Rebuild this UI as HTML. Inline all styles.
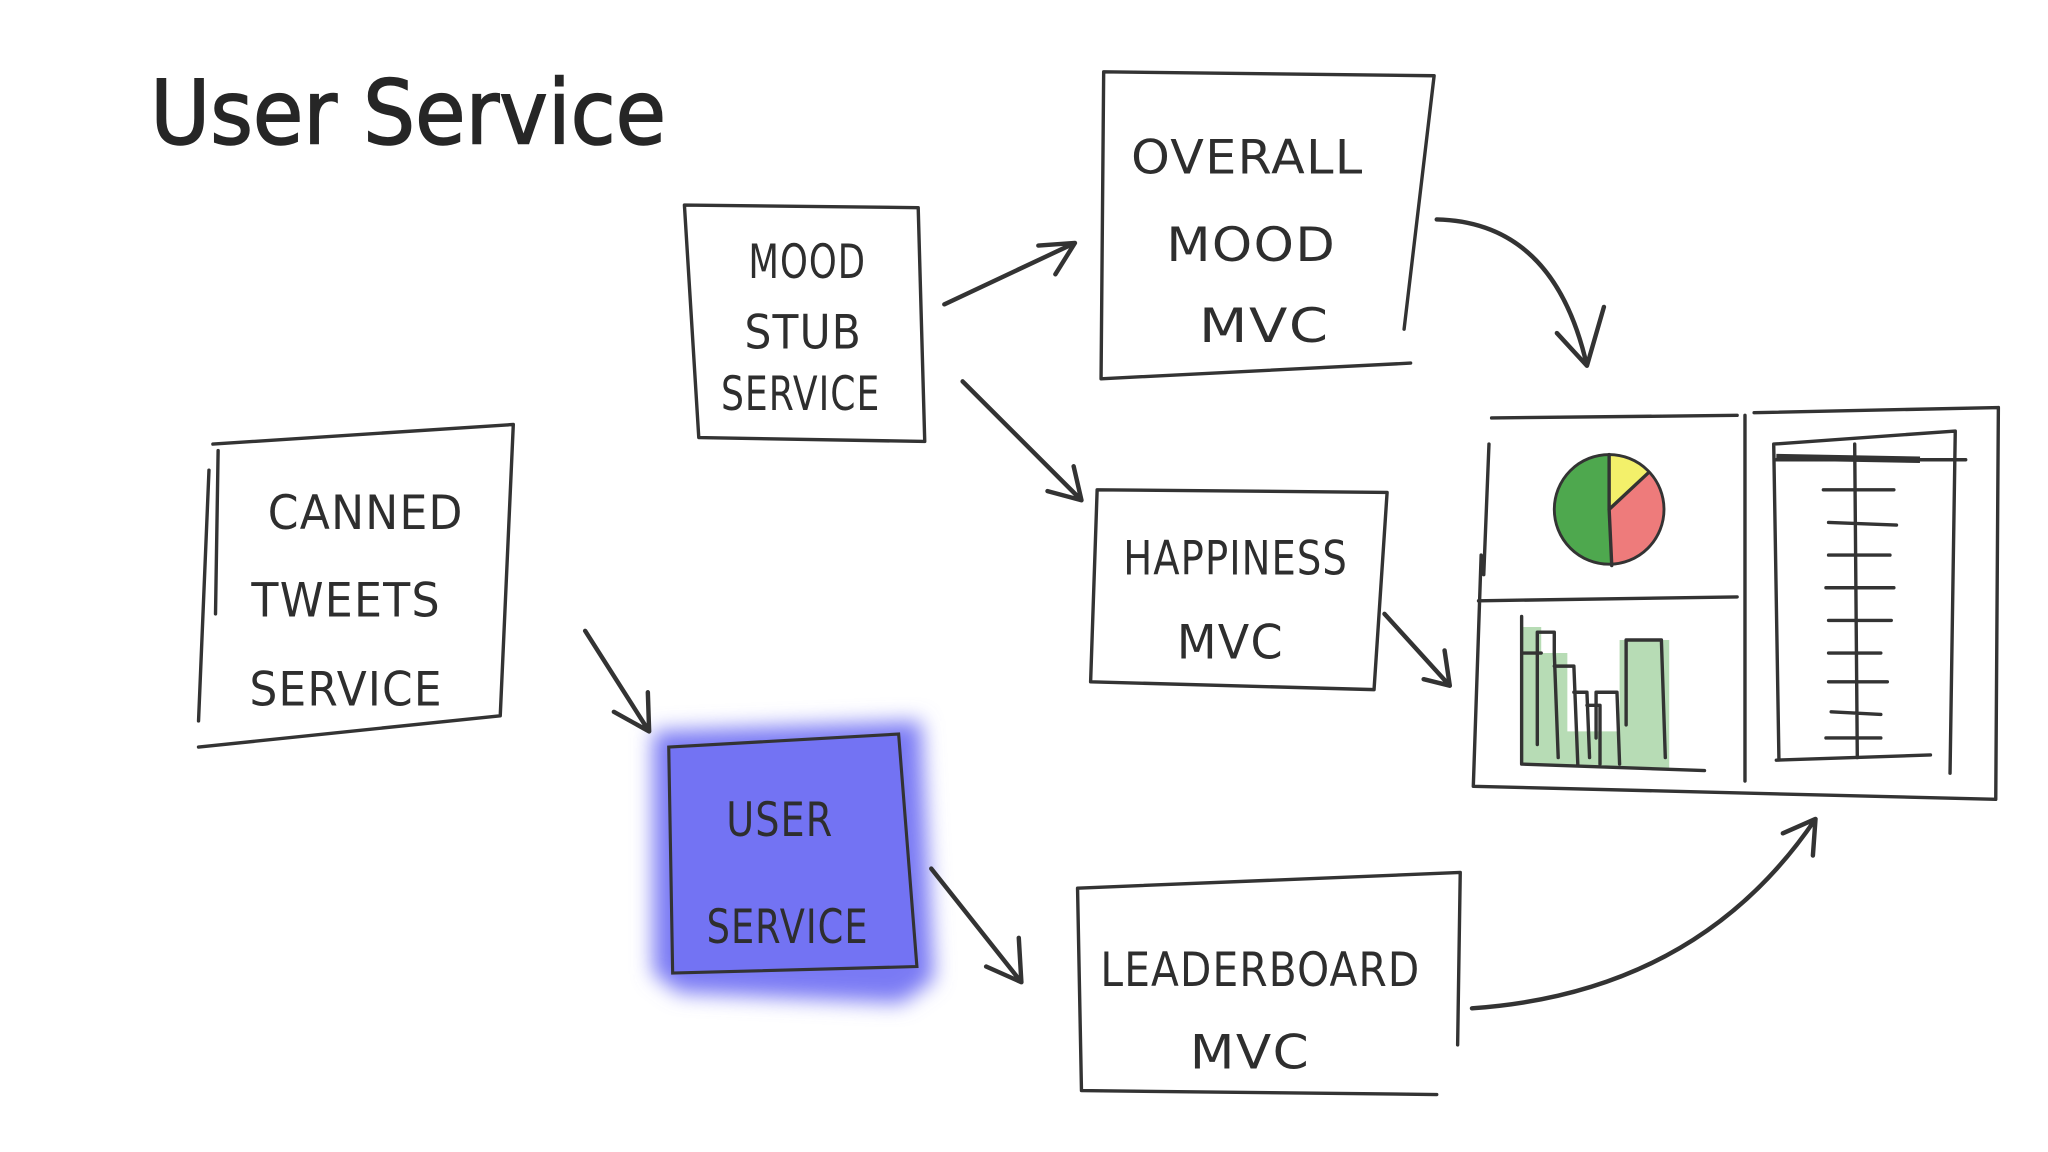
<!DOCTYPE html>
<html><head><meta charset="utf-8"><style>
html,body{margin:0;padding:0;background:#fff;}
svg{display:block;}
.t{font-family:"DejaVu Sans","Liberation Sans",sans-serif;fill:#2e2e2e;font-size:36px;text-anchor:middle;letter-spacing:1px;}
.b{fill:none;stroke:#333;stroke-width:2.6;stroke-linecap:round;stroke-linejoin:round;}
.a{fill:none;stroke:#333;stroke-width:3.4;stroke-linecap:round;stroke-linejoin:round;}
</style></head><body>
<svg width="2048" height="1152" viewBox="0 0 1568 882" preserveAspectRatio="none" xmlns="http://www.w3.org/2000/svg">
<defs>
<filter id="bl" x="-30%" y="-30%" width="160%" height="160%"><feGaussianBlur stdDeviation="8"/></filter>
</defs>
<text x="115" y="110" font-family="DejaVu Sans, Liberation Sans, sans-serif" font-size="68" fill="#262626" stroke="#262626" stroke-width="1.2" textLength="395" lengthAdjust="spacingAndGlyphs">User Service</text>

<!-- Mood Stub -->
<path class="b" d="M524,157 L703,159 L708,338 L535,335 Z"/>
<text class="t" x="618" y="213" textLength="90" lengthAdjust="spacingAndGlyphs">MOOD</text>
<text class="t" x="615" y="267" textLength="90" lengthAdjust="spacingAndGlyphs">STUB</text>
<text class="t" x="613" y="314" font-size="32" textLength="122" lengthAdjust="spacingAndGlyphs">SERVICE</text>

<!-- Overall -->
<path class="b" d="M845,55 L1098,58 L1075,252 M1080,278 L843,290 L845,55"/>
<text class="t" x="955" y="133" textLength="178" lengthAdjust="spacingAndGlyphs">OVERALL</text>
<text class="t" x="958" y="200" textLength="130" lengthAdjust="spacingAndGlyphs">MOOD</text>
<text class="t" x="968" y="262" textLength="100" lengthAdjust="spacingAndGlyphs">MVC</text>

<!-- Canned -->
<path class="b" d="M167,345 L165,470 M152,552 L160,360 M163,340 L393,325 L383,548 L152,572"/>
<text class="t" x="280" y="405" textLength="150" lengthAdjust="spacingAndGlyphs">CANNED</text>
<text class="t" x="265" y="472" textLength="145" lengthAdjust="spacingAndGlyphs">TWEETS</text>
<text class="t" x="265" y="540" textLength="148" lengthAdjust="spacingAndGlyphs">SERVICE</text>

<!-- Happiness -->
<path class="b" d="M840,375 L1062,377 L1052,528 L835,522 Z"/>
<text class="t" x="946" y="440" textLength="172" lengthAdjust="spacingAndGlyphs">HAPPINESS</text>
<text class="t" x="942" y="504" textLength="82" lengthAdjust="spacingAndGlyphs">MVC</text>

<!-- User Service blue -->
<path d="M500,560 L705,552 L715,750 L690,768 L520,760 L500,745 Z" fill="#7a7af4" filter="url(#bl)"/>
<path d="M512,572 L688,562 L702,740 L515,745 Z" fill="#7373f3" stroke="#333" stroke-width="2.4"/>
<text class="t" x="597" y="640" textLength="82" lengthAdjust="spacingAndGlyphs">USER</text>
<text class="t" x="603" y="722" textLength="124" lengthAdjust="spacingAndGlyphs">SERVICE</text>

<!-- Leaderboard -->
<path class="b" d="M825,680 L1118,668 L1116,800 M1100,838 L828,835 L825,680"/>
<text class="t" x="965" y="755" textLength="245" lengthAdjust="spacingAndGlyphs">LEADERBOARD</text>
<text class="t" x="957" y="818" textLength="92" lengthAdjust="spacingAndGlyphs">MVC</text>

<!-- Dashboard -->
<path class="b" d="M1142,320 L1330,318 M1343,316 L1530,312 L1528,612 M1528,612 L1128,602 L1134,425 M1132,460 L1330,457 M1336,318 L1336,598 M1140,340 L1136,440"/>
<path d="M1232,390 L1232,348 A42,42 0 0 0 1234,433 Z" fill="#4ea84e"/>
<path d="M1232,390 L1232,348 A42,42 0 0 1 1262,362 Z" fill="#f3f06a"/>
<path d="M1232,390 L1262,362 A42,42 0 0 1 1234,433 Z" fill="#ee7b7b"/>
<circle cx="1232" cy="390" r="42" fill="none" stroke="#333" stroke-width="2.2"/>
<path class="b" d="M1232,390 L1232,348 M1232,390 L1262,362 M1232,390 L1234,433" stroke-width="2"/>
<path d="M1165,480 L1165,585 L1305,590 L1278,590 L1278,490 L1240,490 L1240,560 L1200,560 L1200,500 L1180,500 L1180,480 Z" fill="#b7dcb5"/>
<path class="b" d="M1165,472 L1165,585 M1165,585 L1305,590 M1165,500 L1180,500 M1177,570 L1177,484 L1190,484 L1190,500 L1193,580 M1190,510 L1205,510 L1208,585 M1205,530 L1215,530 L1217,580 M1215,540 L1225,540 L1225,585 M1222,565 L1222,530 L1238,530 L1240,585 M1245,555 L1245,490 L1272,490 L1275,580"/>
<path class="b" d="M1358,340 L1497,330 L1493,592 M1360,582 L1478,578 M1358,340 L1362,582 M1360,352 L1505,352" />
<path d="M1360,350 L1470,352" stroke="#333" stroke-width="5"/>
<path class="b" d="M1420,340 L1422,580 M1396,375 L1450,375 M1400,400 L1452,402 M1400,425 L1447,425 M1398,450 L1450,450 M1400,475 L1448,475 M1400,500 L1440,500 M1400,522 L1445,522 M1402,545 L1440,547 M1398,565 L1440,565"/>

<!-- Arrows -->
<path class="a" d="M723,233 L823,186 M795,188 L823,186 L808,210"/>
<path class="a" d="M737,292 L828,383 M822,357 L828,383 L802,376"/>
<path class="a" d="M1100,168 Q1190,170 1215,280 M1192,255 L1215,280 L1228,235"/>
<path class="a" d="M448,483 L497,560 M470,545 L497,560 L496,530"/>
<path class="a" d="M1060,470 L1110,525 M1090,520 L1110,525 L1106,498"/>
<path class="a" d="M713,665 L782,752 M755,740 L782,752 L780,718"/>
<path class="a" d="M1127,772 Q1300,760 1390,627 M1365,638 L1390,627 L1388,655"/>
</svg>
</body></html>
